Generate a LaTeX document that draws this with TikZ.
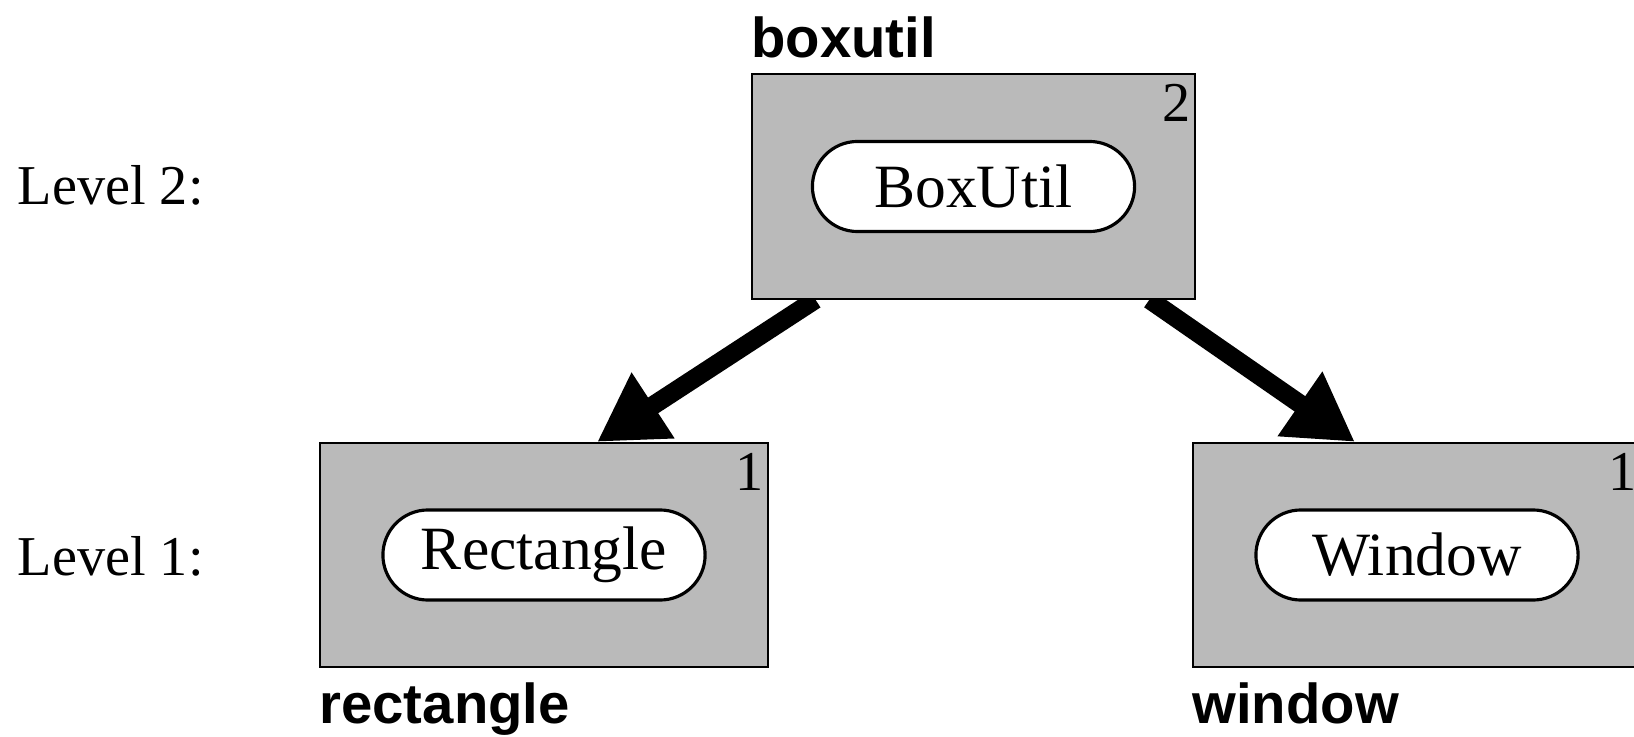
\documentclass[tikz,border=0pt]{standalone}
\usepackage{fontspec}
\setmainfont{Liberation Serif}
\setsansfont{Liberation Sans}
\usetikzlibrary{arrows.meta,calc,backgrounds}

\begin{document}
\begin{tikzpicture}[x=0.01cm,y=-0.01cm]
  \tikzset{pkg/.style={draw,line width=0.6pt,fill=black!27,minimum height=2.24cm,inner sep=0pt},
           cls/.style={draw,line width=0.9pt,fill=white,rounded corners=0.45cm,minimum width=3.22cm,minimum height=0.9cm,inner sep=0pt,font=\fontsize{17.5}{20}\selectfont},
           lvlno/.style={anchor=north east,inner sep=0pt,font=\fontsize{16}{18}\selectfont},
           lvltext/.style={anchor=base west,inner sep=0pt,font=\fontsize{16}{18}\selectfont},
           pkgname/.style={anchor=base west,inner sep=0pt,font=\fontsize{16}{18}\selectfont\sffamily\bfseries},
           dep/.style={-{Triangle[length=19pt,width=21pt]},line width=5.3pt}}
  \useasboundingbox (0,0) rectangle (1634,737);
  \clip (0,0) rectangle (1634,737);

  % levels
  \node[lvltext] (lvltwo) at (17,205) {Level 2:};
  \node[lvltext] (lvlone) at (17,575) {Level 1:};

  % packages
  \node[pkg,minimum width=4.43cm] (boxutil) at (973.5,186.5) {};
  \node[pkg,minimum width=4.48cm] (rectangle) at (544,555) {};
  \node[pkg,minimum width=4.48cm] (window) at (1417,555) {};

  \node[cls] (BoxUtil) at (boxutil) {BoxUtil};
  \node[cls] (Rectangle) at (rectangle) {Rectangle};
  \node[cls] (Window) at (window) {Window};

  \node[lvlno] (nboxutil) at ([xshift=-0.05cm,yshift=-0.1cm]boxutil.north east) {2};
  \node[lvlno] (nrectangle) at ([xshift=-0.05cm,yshift=-0.11cm]rectangle.north east) {1};
  \node[lvlno] (nwindow) at ([xshift=-0.05cm,yshift=-0.11cm]window.north east) {1};

  \node[pkgname] (lboxutil) at ([yshift=0.16cm]boxutil.north west) {boxutil};
  \node[pkgname] (lrectangle) at ([yshift=-0.55cm]rectangle.south west) {rectangle};
  \node[pkgname] (lwindow) at ([yshift=-0.55cm]window.south west) {window};

  % dependencies
  \begin{scope}[on background layer]
    \draw[dep] ($(boxutil.south west)!0.145!(boxutil.south east)$) -- ($(rectangle.north west)!0.618!(rectangle.north east)$);
    \draw[dep] ($(boxutil.south west)!0.895!(boxutil.south east)$) -- ($(window.north west)!0.362!(window.north east)$);
  \end{scope}
\end{tikzpicture}
\end{document}
